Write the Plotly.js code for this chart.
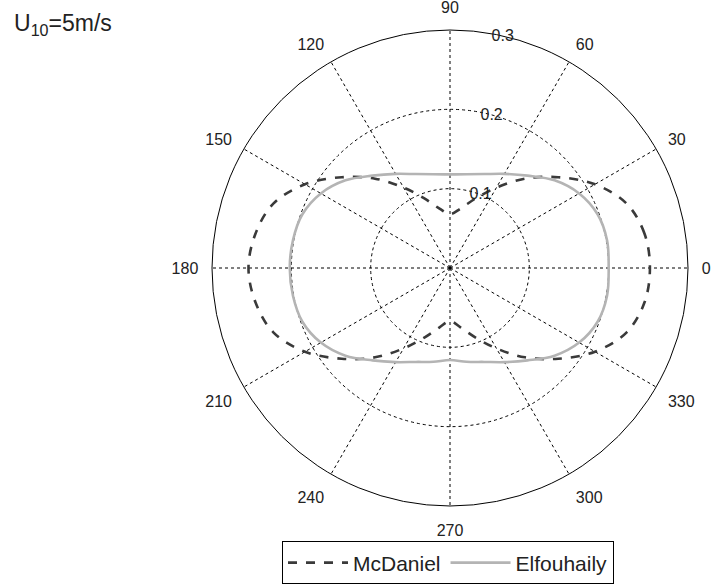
<!DOCTYPE html>
<html>
<head>
<meta charset="utf-8">
<script src="https://cdn.plot.ly/plotly-3.0.1.min.js"></script>
<style>html,body{margin:0;padding:0;background:#fff;}#chart{width:725px;height:588px;}</style>
</head>
<body>
<div id="chart"></div>
<script>
var angles = [0,10,20,30,40,50,60,70,80,90,100,110,120,130,140,150,160,170,180,190,200,210,220,230,240,250,260,270,280,290,300,310,320,330,340,350,360];
var mcdaniel = [0.252,0.249,0.237,0.211,0.178,0.147,0.117,0.093,0.076,0.068,0.076,0.093,0.117,0.147,0.178,0.211,0.237,0.249,0.254,0.249,0.237,0.211,0.178,0.147,0.117,0.093,0.076,0.067,0.076,0.093,0.117,0.147,0.178,0.211,0.237,0.249,0.252];
var elfouhaily = [0.200,0.201,0.198,0.188,0.172,0.152,0.137,0.126,0.120,0.118,0.120,0.126,0.137,0.152,0.172,0.188,0.198,0.201,0.202,0.201,0.198,0.188,0.172,0.152,0.137,0.126,0.120,0.116,0.120,0.126,0.137,0.152,0.172,0.188,0.198,0.201,0.200];
var radialTicks = [0.1,0.2,0.3];
var angularTicks = [0,30,60,90,120,150,180,210,240,270,300,330];

var cx = 450, cy = 268, R = 238, W = 725, H = 588;
var traces = [
  {type:'scatterpolar', r:mcdaniel, theta:angles, mode:'lines', name:'McDaniel',
   line:{color:'#3a3a3a', width:2.6, dash:'dash', shape:'spline'}},
  {type:'scatterpolar', r:elfouhaily, theta:angles, mode:'lines', name:'Elfouhaily',
   line:{color:'#b4b4b4', width:2.6, shape:'spline'}}
];
var layout = {
  width:W, height:H,
  margin:{l:0,r:0,t:0,b:0},
  paper_bgcolor:'#fff',
  font:{family:'Liberation Sans, Arial, sans-serif', size:16, color:'#222'},
  showlegend:true,
  legend:{orientation:'h', x:448/W, xanchor:'center', y:0.006, yanchor:'bottom', itemwidth:60,
          bordercolor:'#000', borderwidth:1, font:{size:21, color:'#222'}},
  polar:{
    domain:{x:[(cx-R)/W,(cx+R)/W], y:[(H-cy-R)/H,(H-cy+R)/H]},
    bgcolor:'#fff',
    radialaxis:{range:[0,0.3], tickvals:radialTicks, ticktext:['0.1','0.2','0.3'],
      angle:82, tickangle:82, showline:false, ticks:'', showgrid:true,
      gridcolor:'#000', gridwidth:1, griddash:'3px,3px', tickfont:{size:16,color:'#222'}},
    angularaxis:{tickvals:angularTicks, ticktext:angularTicks.map(String), direction:'counterclockwise',
      rotation:0, showline:true, linecolor:'#000', linewidth:1, ticks:'outside', ticklen:10,
      tickcolor:'rgba(0,0,0,0)', gridcolor:'#000', gridwidth:1, griddash:'3px,3px',
      tickfont:{size:16,color:'#222'}}
  },
  annotations:[{text:'U<sub>10</sub>=5m/s', x:12/W, y:1-8/H, xref:'paper', yref:'paper',
    xanchor:'left', yanchor:'top', showarrow:false, font:{size:23,color:'#222'}}]
};
Plotly.newPlot('chart', traces, layout, {displayModeBar:false, staticPlot:true});
</script>
</body>
</html>
